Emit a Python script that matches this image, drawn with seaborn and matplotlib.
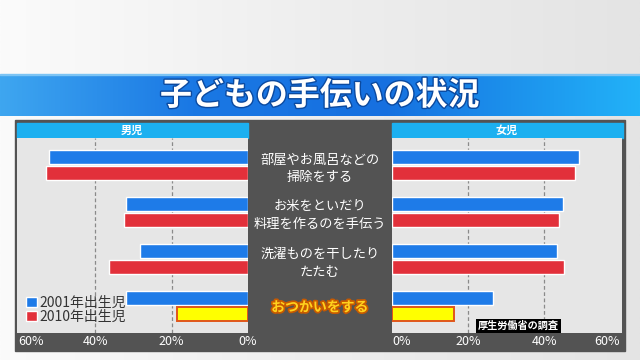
import numpy as np
import pandas as pd
import seaborn as sns
import matplotlib.pyplot as plt
import matplotlib.patheffects as pe
from matplotlib.colors import LinearSegmentedColormap
from matplotlib.patches import Rectangle

# data (percent)
tasks = ["部屋やお風呂などの\n掃除をする",
         "お米をといだり\n料理を作るのを手伝う",
         "洗濯ものを干したり\nたたむ",
         "おつかいをする"]
cohorts = ["2001年出生児", "2010年出生児"]
boys_2001 = [52.0, 31.9, 28.2, 31.9]
boys_2010 = [52.8, 32.5, 36.4, 18.6]
girls_2001 = [49.2, 45.0, 43.3, 26.5]
girls_2010 = [48.2, 43.8, 45.2, 16.3]
tick_vals = [0, 20, 40, 60]
grid_vals = [20, 40]

BLUE = "#1e7be8"
RED = "#e2303a"


def long_frame(a, b):
    return pd.DataFrame({
        "task": tasks * 2,
        "cohort": [cohorts[0]] * 4 + [cohorts[1]] * 4,
        "value": a + b,
    })


boys = long_frame(boys_2001, boys_2010)
girls = long_frame(girls_2001, girls_2010)

sns.set_style("white")
plt.rcParams['font.family'] = ['Noto Sans CJK JP', 'DejaVu Sans']

W, H = 640, 360
fig = plt.figure(figsize=(6.4, 3.6), dpi=100)


def box(x0, y0, x1, y1):
    # pixel box (top-left origin) -> figure fraction rect
    return [x0 / W, 1 - y1 / H, (x1 - x0) / W, (y1 - y0) / H]


# background
bg = fig.add_axes([0, 0, 1, 1], zorder=-10)
bg_cmap = LinearSegmentedColormap.from_list("bg", ["#fbfbfb", "#eeeeee", "#e4e4e4"])
bg.imshow(np.linspace(0, 1, 256)[None, :], cmap=bg_cmap, aspect="auto", extent=[0, 1, 0, 1])
bg.set_xlim(0, 1)
bg.set_ylim(0, 1)
bg.axis("off")

# title band
band = fig.add_axes(box(0, 75, 640, 116), zorder=-9)
band_cmap = LinearSegmentedColormap.from_list(
    "band", [(0, "#3ea6f0"), (0.3, "#1a78e4"), (0.6, "#1670e0"), (1, "#22b2f8")])
band.imshow(np.linspace(0, 1, 256)[None, :], cmap=band_cmap, aspect="auto", extent=[0, 1, 0, 1])
band.axis("off")
fig.patches.append(Rectangle((0, 1 - 75 / H), 1, 1.5 / H, transform=fig.transFigure,
                             color="#7cc4f4", zorder=-8))
fig.text(0.5, 1 - 96 / H, "子どもの手伝いの状況", ha="center", va="center",
         color="white", fontsize=23, fontweight="bold",
         path_effects=[pe.withStroke(linewidth=2, foreground="#0b4aa0")])

# dark frame and headers
for (x0, y0, x1, y1, c) in [(15, 120, 625, 351, "#535353"),
                            (17, 123, 248, 138, "#1cb0f0"),
                            (392, 123, 623, 138, "#1cb0f0")]:
    r = box(x0, y0, x1, y1)
    fig.patches.append(Rectangle((r[0], r[1]), r[2], r[3], transform=fig.transFigure,
                                 color=c, zorder=-5))
fig.text(132 / W, 1 - 130.5 / H, "男児", ha="center", va="center", color="white",
         fontsize=8, fontweight="bold")
fig.text(507 / W, 1 - 130.5 / H, "女児", ha="center", va="center", color="white",
         fontsize=8, fontweight="bold")

axL = fig.add_axes(box(17, 138, 248, 333))
axR = fig.add_axes(box(392, 138, 622, 333))

for ax, df, show_legend in [(axL, boys, True), (axR, girls, False)]:
    ax.set_facecolor("#e6e6e6")
    sns.barplot(data=df, y="task", x="value", hue="cohort", orient="h",
                palette=[BLUE, RED], saturation=1, width=0.68, gap=0.1, ax=ax,
                legend=show_legend, zorder=3)
    for g in grid_vals:
        ax.axvline(g, color="#8a8a8a", ls=(0, (3, 2)), lw=0.9, zorder=1)
    ax.set_ylim(3.575, -0.574)
    ax.set_xticks(tick_vals)
    ax.set_xticklabels([f"{v}%" for v in tick_vals])
    ax.tick_params(axis="x", length=0, pad=1.5, labelcolor="white", labelsize=9)
    ax.set_xlabel("")
    ax.set_ylabel("")
    for s in ax.spines.values():
        s.set_visible(False)
    # the 2010 "おつかい" bar is highlighted in yellow
    hl = ax.containers[1][3]
    hl.set_facecolor("#ffff00")
    hl.set_edgecolor("#e0561a")
    hl.set_linewidth(1.4)

axL.set_xlim(60.4, 0)
axR.set_xlim(0, 60.5)
axL.set_yticks([])

labsL = axL.get_xticklabels()
labsL[-1].set_ha("left")
labsR = axR.get_xticklabels()
labsR[0].set_ha("left")
labsR[-1].set_ha("right")

# task labels in the middle column
axR.set_yticks(range(len(tasks)))
axR.set_yticklabels(tasks)
axR.tick_params(axis="y", length=0, pad=52)
for i, t in enumerate(axR.get_yticklabels()):
    t.set_ha("center")
    t.set_multialignment("center")
    t.set_fontsize(9.5)
    t.set_linespacing(1.45)
    if i == 3:
        t.set_color("#ffd21e")
        t.set_fontweight("bold")
        t.set_fontsize(10)
        t.set_path_effects([pe.withStroke(linewidth=2.5, foreground="#c85a00")])
    else:
        t.set_color("white")

leg = axL.legend(loc="lower left", bbox_to_anchor=(0.0, 0.0), frameon=False,
                 handlelength=0.8, handleheight=0.8, handletextpad=0.15,
                 labelspacing=0.0, fontsize=10, borderaxespad=0.25)
for t in leg.get_texts():
    t.set_color("#333333")

fig.text(559 / W, 1 - 326 / H, "厚生労働省の調査", ha="right", va="center",
         color="white", fontsize=7.3, fontweight="bold",
         bbox=dict(boxstyle="square,pad=0.15", fc="black", ec="none"))

fig.savefig("out.png", dpi=100)
